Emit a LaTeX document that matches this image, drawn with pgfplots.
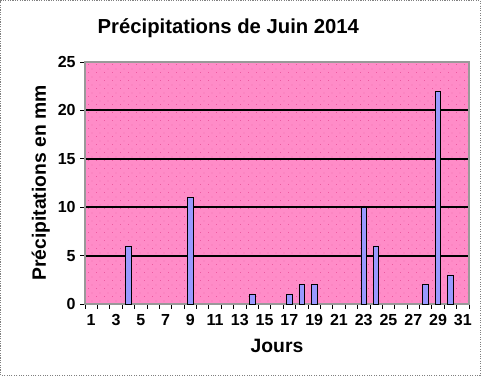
\documentclass[border=0pt]{standalone}
\usepackage{pgfplots}
\pgfplotsset{compat=1.18}
\usetikzlibrary{patterns}
\usepackage{fontspec}
\setmainfont{Liberation Sans}
\definecolor{bgpink}{RGB}{255,140,200}
\definecolor{dotpink}{RGB}{235,90,160}
\definecolor{barblue}{RGB}{153,153,255}
\pgfdeclarepatternformonly{sparsedots}{\pgfqpoint{0pt}{0pt}}{\pgfqpoint{6pt}{6pt}}{\pgfqpoint{6pt}{6pt}}{%
  \pgfpathrectangle{\pgfqpoint{0pt}{0pt}}{\pgfqpoint{0.75pt}{0.75pt}}%
  \pgfpathrectangle{\pgfqpoint{3pt}{3pt}}{\pgfqpoint{0.75pt}{0.75pt}}%
  \pgfusepath{fill}}
\begin{document}
\begin{tikzpicture}
\useasboundingbox (-63.75pt,-54pt) rectangle (297pt,228pt);
\draw[gray, densely dotted, line width=0.8pt] (-63.2pt,-53.5pt) rectangle (296.5pt,227.5pt);
\fill[bgpink] (0,0) rectangle (288pt,181.5pt);
\fill[pattern=sparsedots, pattern color=dotpink] (0,0) rectangle (288pt,181.5pt);
\begin{axis}[
  at={(0,0)}, anchor=south west,
  scale only axis, width=288pt, height=181.5pt,
  xmin=0.5, xmax=31.5, ymin=0, ymax=25,
  axis line style={gray!80, line width=0.8pt},
  xtick={1,3,...,31},
  minor xtick={0.5,1.5,...,31.5},
  major x tick style={draw=none},
  minor x tick style={black, line width=0.6pt},
  ytick={0,5,...,25},
  ytick style={black, line width=0.6pt},
  tick align=outside,
  tick pos=left,
  minor tick length=3.5pt,
  major tick length=3.5pt,
  ymajorgrids,
  grid style={black, line width=1.6pt},
  xticklabel style={font=\bfseries\fontsize{12}{13}\selectfont, yshift=-1pt},
  yticklabel style={font=\bfseries\fontsize{12}{13}\selectfont},
  ylabel={\bfseries\fontsize{14.5}{16}\selectfont Précipitations en mm},
  ylabel style={yshift=-1pt},
  xlabel={\bfseries\fontsize{14.5}{16}\selectfont Jours},
  xlabel style={yshift=-3pt},
  /pgf/number format/assume math mode=true,
  clip=false,
]
\addplot[ybar, bar width=0.45, fill=barblue, draw=black, line width=0.6pt]
coordinates {(4,6) (9,11) (14,1) (17,1) (18,2) (19,2) (23,10) (24,6) (28,2) (29,22) (30,3)};
\end{axis}
\node[font=\bfseries\fontsize{15.2}{17}\selectfont] at (107.5pt,207pt) {Précipitations de Juin 2014};
\end{tikzpicture}
\end{document}
